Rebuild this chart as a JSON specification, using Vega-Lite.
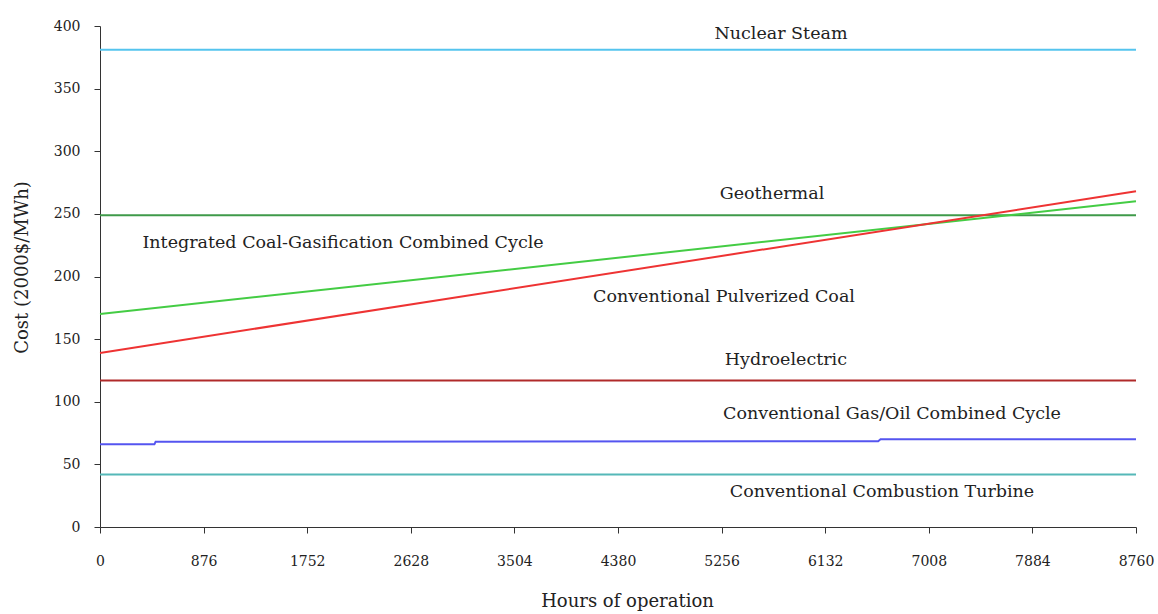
{
  "$schema": "https://vega.github.io/schema/vega-lite/v6.json",
  "width": 1036,
  "height": 501,
  "autosize": "none",
  "padding": {"left": 100, "top": 26, "right": 22, "bottom": 87},
  "background": "white",
  "config": {"view": {"stroke": null}, "font": "DejaVu Serif"},
  "datasets": {
    "series": [
      {"series": "Nuclear Steam", "hours": 0, "cost": 381},
      {"series": "Nuclear Steam", "hours": 8760, "cost": 381},
      {"series": "Geothermal", "hours": 0, "cost": 249},
      {"series": "Geothermal", "hours": 8760, "cost": 249},
      {"series": "Integrated Coal-Gasification Combined Cycle", "hours": 0, "cost": 170},
      {"series": "Integrated Coal-Gasification Combined Cycle", "hours": 8760, "cost": 260},
      {"series": "Conventional Pulverized Coal", "hours": 0, "cost": 139},
      {"series": "Conventional Pulverized Coal", "hours": 8760, "cost": 268},
      {"series": "Hydroelectric", "hours": 0, "cost": 117},
      {"series": "Hydroelectric", "hours": 8760, "cost": 117},
      {"series": "Conventional Gas/Oil Combined Cycle", "hours": 0, "cost": 66},
      {"series": "Conventional Gas/Oil Combined Cycle", "hours": 460, "cost": 66},
      {"series": "Conventional Gas/Oil Combined Cycle", "hours": 470, "cost": 68},
      {"series": "Conventional Gas/Oil Combined Cycle", "hours": 6580, "cost": 68.5},
      {"series": "Conventional Gas/Oil Combined Cycle", "hours": 6600, "cost": 70},
      {"series": "Conventional Gas/Oil Combined Cycle", "hours": 8760, "cost": 70},
      {"series": "Conventional Combustion Turbine", "hours": 0, "cost": 42},
      {"series": "Conventional Combustion Turbine", "hours": 8760, "cost": 42}
    ],
    "labels": [
      {"label": "Nuclear Steam", "hours": 5758, "cost": 394},
      {"label": "Geothermal", "hours": 5682, "cost": 266},
      {"label": "Integrated Coal-Gasification Combined Cycle", "hours": 2055, "cost": 227},
      {"label": "Conventional Pulverized Coal", "hours": 5276, "cost": 184},
      {"label": "Hydroelectric", "hours": 5800, "cost": 133},
      {"label": "Conventional Gas/Oil Combined Cycle", "hours": 6697, "cost": 90},
      {"label": "Conventional Combustion Turbine", "hours": 6612, "cost": 28}
    ]
  },
  "encoding": {
    "x": {
      "field": "hours", "type": "quantitative",
      "scale": {"domain": [0, 8760], "nice": false, "zero": true},
      "axis": {
        "title": "Hours of operation",
        "values": [0, 876, 1752, 2628, 3504, 4380, 5256, 6132, 7008, 7884, 8760],
        "format": "d",
        "grid": false, "domainColor": "#333", "tickColor": "#333", "tickSize": 6,
        "labelFont": "DejaVu Serif", "labelFontSize": 14, "labelColor": "#222", "labelPadding": 21,
        "titleFont": "DejaVu Serif", "titleFontSize": 18, "titleFontWeight": "normal", "titleColor": "#222",
        "titleX": 527, "titleY": 74, "titleBaseline": "middle", "labelFlush": false
      }
    },
    "y": {
      "field": "cost", "type": "quantitative",
      "scale": {"domain": [0, 400], "nice": false},
      "axis": {
        "title": "Cost (2000$/MWh)",
        "values": [0, 50, 100, 150, 200, 250, 300, 350, 400],
        "format": "d",
        "grid": false, "domainColor": "#333", "tickColor": "#333", "tickSize": 6,
        "labelFont": "DejaVu Serif", "labelFontSize": 14, "labelColor": "#222", "labelPadding": 14,
        "titleFont": "DejaVu Serif", "titleFontSize": 18, "titleFontWeight": "normal", "titleColor": "#222",
        "titleX": -78, "titleY": 241, "titleBaseline": "middle"
      }
    }
  },
  "layer": [
    {
      "data": {"name": "series"},
      "mark": {"type": "line", "strokeWidth": 2},
      "encoding": {
        "color": {
          "field": "series", "type": "nominal", "legend": null,
          "scale": {
            "domain": ["Nuclear Steam", "Geothermal", "Integrated Coal-Gasification Combined Cycle", "Conventional Pulverized Coal", "Hydroelectric", "Conventional Gas/Oil Combined Cycle", "Conventional Combustion Turbine"],
            "range": ["#55c4ee", "#3f9a4a", "#44cc44", "#ee3333", "#b02a2a", "#5555f0", "#55b8b8"]
          }
        }
      }
    },
    {
      "data": {"name": "labels"},
      "mark": {"type": "text", "font": "DejaVu Serif", "fontSize": 17.5, "color": "#222", "align": "center", "baseline": "middle"},
      "encoding": {"text": {"field": "label"}}
    }
  ]
}
